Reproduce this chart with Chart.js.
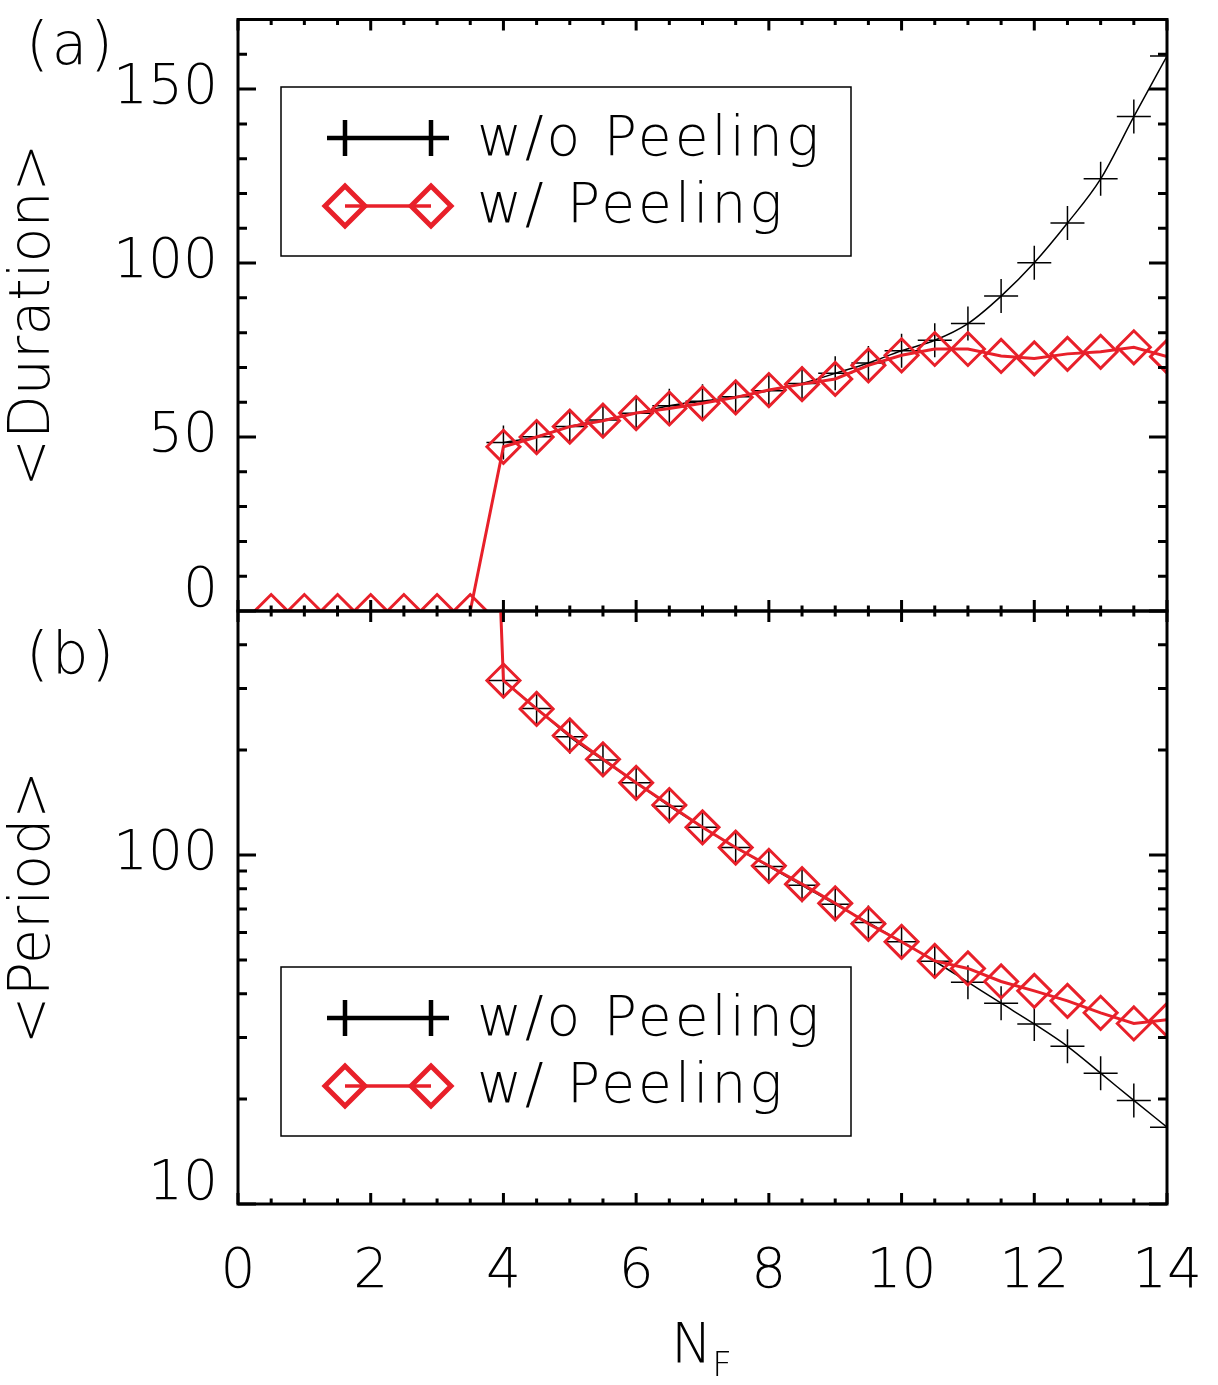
<!DOCTYPE html>
<html>
<head>
<meta charset="utf-8">
<script src="https://cdn.jsdelivr.net/npm/chart.js@4.4.1/dist/chart.umd.min.js"></script>
<style>
  body { margin: 0; background: #fff; }
  #wrap { position: relative; width: 1218px; height: 1385px; font-family: 'DejaVu Sans', sans-serif; font-weight: 200; }
  #boxA { position: absolute; left: 0; top: 0; width: 1218px; height: 640px; }
  #boxB { position: absolute; left: 0; top: 580px; width: 1218px; height: 805px; }
  .lbl { position: absolute; font-size: 55px; line-height: 1; color: #000; white-space: nowrap; }
  .pan { font-size: 58px; letter-spacing: 3px; }
</style>
</head>
<body>
<div id="wrap">
  <div id="boxA"><canvas id="durationChart"></canvas></div>
  <div id="boxB"><canvas id="periodChart"></canvas></div>
  <div class="lbl pan" style="left:26px; top:15px">(a)</div>
  <div class="lbl pan" style="left:26px; top:625px">(b)</div>
  <div class="lbl" style="left:671px; top:1316px">N<span style="font-size:34px; position:relative; top:14px">F</span></div>
</div>
<script>
// N_F values along the x axis
const nf = [0.5, 1, 1.5, 2, 2.5, 3, 3.5, 4, 4.5, 5, 5.5, 6, 6.5, 7, 7.5, 8, 8.5, 9, 9.5, 10,
            10.5, 11, 11.5, 12, 12.5, 13, 13.5, 14];

// (a) <Duration>
const durationNoPeel = [null, null, null, null, null, null, null,
  48.4, 50.1, 53.0, 54.9, 56.8, 59.0, 60.3, 61.6, 63.3, 65.4, 68.3, 71.3, 74.8,
  77.8, 82.6, 90.5, 100.1, 111.5, 124.2, 142.1, 159.5];
const durationPeel = [0, 0, 0, 0, 0, 0, 0,
  47.2, 50.0, 53.0, 54.7, 56.9, 58.2, 59.7, 61.4, 63.5, 65.2, 66.7, 70.6, 73.5,
  75.3, 75.3, 73.3, 72.6, 73.9, 74.5, 75.8, 73.1];

// (b) <Period>, log axis
const periodNoPeel = [null, null, null, null, null, null, null,
  316, 263, 218, 187, 161, 138, 120, 105, 92.7, 81.9, 72.2, 64.0, 56.4,
  49.6, 43.2, 37.6, 32.8, 28.3, 23.7, 19.8, 16.6];
const periodPeel = [null, null, null, null, null, null, 90000,
  316, 262, 220, 188, 161, 139, 120, 105, 93.1, 82.5, 72.7, 63.5, 56.4,
  49.7, 47.3, 43.4, 40.8, 38.2, 35.3, 32.9, 33.7];

// tick labels
const nfTicks = [0, 2, 4, 6, 8, 10, 12, 14];
const durationTicks = [0, 50, 100, 150];
const periodTicks = [10, 100];

// minor tick positions
const nfMinor = Array.from({length: 29}, (_, i) => i * 0.5);
const durationMinor = Array.from({length: 18}, (_, i) => i * 10);
const periodMinor = [20, 30, 40, 50, 60, 70, 80, 90, 200, 300, 400];

const RED = '#e8202a';
const FONT = "'DejaVu Sans', sans-serif";

Chart.defaults.font.family = FONT;
Chart.defaults.font.weight = 200;
Chart.defaults.color = '#000';

const toPoints = ys => nf.map((x, i) => ({x: x, y: ys[i]}));

function blackSet(ys) {
  return {
    label: 'w/o Peeling', data: toPoints(ys), order: 1,
    borderColor: '#000', borderWidth: 1.5, cubicInterpolationMode: 'monotone',
    pointStyle: 'cross', pointRadius: 17, pointBorderWidth: 1.5, pointBorderColor: '#000'
  };
}
function redSet(ys) {
  return {
    label: 'w/ Peeling', data: toPoints(ys), order: 0,
    borderColor: RED, borderWidth: 3, tension: 0,
    pointStyle: 'rectRot', pointRadius: 16.5, pointBorderWidth: 3,
    pointBorderColor: RED, pointBackgroundColor: 'rgba(0,0,0,0)'
  };
}

function drawLegend(ctx, chart, top) {
  const left = 281, w = 570, h = 169;
  ctx.fillStyle = '#fff';
  ctx.fillRect(left, top, w, h);
  ctx.lineWidth = 1.5;
  ctx.strokeStyle = '#000';
  ctx.strokeRect(left, top, w, h);

  const y1 = top + 51, y2 = top + 119, xa = 345, xb = 431;
  // black: line with plus at each end
  ctx.lineWidth = 4.5;
  ctx.beginPath();
  ctx.moveTo(xa, y1); ctx.lineTo(xb, y1);
  [xa, xb].forEach(cx => {
    ctx.moveTo(cx - 18, y1); ctx.lineTo(cx + 18, y1);
    ctx.moveTo(cx, y1 - 18); ctx.lineTo(cx, y1 + 18);
  });
  ctx.stroke();
  // red: line with diamond at each end
  ctx.strokeStyle = RED;
  ctx.lineWidth = 3.5;
  ctx.beginPath();
  ctx.moveTo(xa, y2); ctx.lineTo(xb, y2);
  ctx.stroke();
  ctx.lineWidth = 5;
  [xa, xb].forEach(cx => {
    ctx.beginPath();
    ctx.moveTo(cx - 20, y2); ctx.lineTo(cx, y2 - 20);
    ctx.lineTo(cx + 20, y2); ctx.lineTo(cx, y2 + 20);
    ctx.closePath();
    ctx.stroke();
  });

  const sets = chart.data.datasets;
  ctx.fillStyle = '#000';
  ctx.font = '200 55px ' + FONT;
  ctx.letterSpacing = '3px';
  ctx.textAlign = 'left';
  ctx.textBaseline = 'alphabetic';
  ctx.fillText(sets[0].label, 477, top + 68);
  ctx.fillText(sets[1].label, 477, top + 135);
  ctx.letterSpacing = '0px';
}

// IDL style frame: box with inward ticks on all sides, plus the legend
function panelDecor(yMajor, yMinor, legendTop) {
  return {
    id: 'panelDecor',
    afterDatasetsDraw(chart) {
      const {ctx, chartArea: a} = chart;
      const xs = chart.scales.x, ys = chart.scales.y;
      ctx.save();
      ctx.strokeStyle = '#000';
      ctx.lineWidth = 3;
      ctx.beginPath();
      nfMinor.forEach(v => {
        const p = xs.getPixelForValue(v);
        const len = nfTicks.includes(v) ? 11 : 5.5;
        ctx.moveTo(p, a.bottom); ctx.lineTo(p, a.bottom - len);
        ctx.moveTo(p, a.top); ctx.lineTo(p, a.top + len);
      });
      yMinor.concat(yMajor).forEach(v => {
        const p = ys.getPixelForValue(v);
        const len = yMajor.includes(v) ? 18 : 9;
        ctx.moveTo(a.left, p); ctx.lineTo(a.left + len, p);
        ctx.moveTo(a.right, p); ctx.lineTo(a.right - len, p);
      });
      ctx.stroke();
      ctx.strokeRect(a.left, a.top, a.right - a.left, a.bottom - a.top);
      drawLegend(ctx, chart, legendTop);
      ctx.restore();
    }
  };
}

const tickFont = {size: 55, lineHeight: '38px'};
const titleFont = {size: 57, lineHeight: 1};

// DURATION PANEL
new Chart(document.getElementById('durationChart'), {
  type: 'line',
  data: {datasets: [blackSet(durationNoPeel), redSet(durationPeel)]},
  options: {
    responsive: true, maintainAspectRatio: false, animation: false,
    layout: {padding: {top: 19, right: 51, bottom: 29, left: 0}},
    plugins: {legend: {display: false}, tooltip: {enabled: false}},
    scales: {
      x: {type: 'linear', min: 0, max: 14, display: false},
      y: {
        min: 0, max: 170,
        afterBuildTicks: s => { s.ticks = durationTicks.map(v => ({value: v})); },
        afterFit: s => { s.width = 238; s.paddingTop = 0; s.paddingBottom = 0; },
        grid: {display: false, drawTicks: false},
        border: {display: false},
        ticks: {padding: 20, font: tickFont, callback: v => v === 0 ? ['0', ''] : String(v)},
        title: {display: true, text: '<Duration>', font: titleFont, padding: {top: 6, bottom: 0}}
      }
    }
  },
  plugins: [panelDecor(durationTicks, durationMinor, 87)]
});

// PERIOD PANEL
new Chart(document.getElementById('periodChart'), {
  type: 'line',
  data: {datasets: [blackSet(periodNoPeel), redSet(periodPeel)]},
  options: {
    responsive: true, maintainAspectRatio: false, animation: false,
    layout: {padding: {top: 31, right: 51, bottom: 0, left: 0}},
    plugins: {legend: {display: false}, tooltip: {enabled: false}},
    scales: {
      x: {
        type: 'linear', min: 0, max: 14,
        afterBuildTicks: s => { s.ticks = nfTicks.map(v => ({value: v})); },
        afterFit: s => { s.height = 181; s.paddingLeft = 0; s.paddingRight = 0; },
        grid: {display: false, drawTicks: false},
        border: {display: false},
        ticks: {padding: 36, autoSkip: false, maxRotation: 0, font: {size: 55, lineHeight: 1.2}}
      },
      y: {
        type: 'logarithmic', min: 10, max: 500,
        afterBuildTicks: s => { s.ticks = periodTicks.map(v => ({value: v})); },
        afterFit: s => { s.width = 238; s.paddingTop = 0; s.paddingBottom = 0; },
        grid: {display: false, drawTicks: false},
        border: {display: false},
        ticks: {padding: 20, font: tickFont, callback: v => v === 10 ? ['10', ''] : String(v)},
        title: {display: true, text: '<Period>', font: titleFont, padding: {top: 6, bottom: 0}}
      }
    }
  },
  plugins: [panelDecor(periodTicks, periodMinor, 387)]
});
</script>
</body>
</html>
